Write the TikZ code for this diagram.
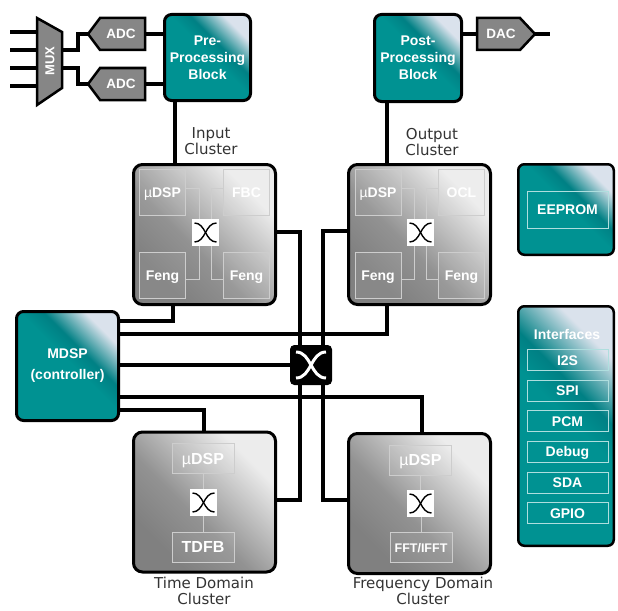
\documentclass[tikz,border=0pt]{standalone}
\usepackage{fontspec}
\setmainfont{Liberation Sans}
\newfontfamily\labfont{DejaVu Sans}
\usetikzlibrary{calc}
\pgfdeclarelayer{bg}
\pgfsetlayers{bg,main}
\definecolor{tealA}{RGB}{0,146,146}
\definecolor{tealB}{RGB}{0,128,132}
\definecolor{tealHi}{RGB}{218,226,236}
\definecolor{gA}{RGB}{128,128,128}
\definecolor{gB}{RGB}{146,146,146}
\definecolor{gC}{RGB}{236,236,236}
\definecolor{boxgray}{RGB}{134,134,134}
\definecolor{subline}{RGB}{205,205,205}
\definecolor{tealline}{RGB}{175,222,222}
\pgfdeclareverticalshading{tealsh}{100bp}{color(0bp)=(tealA); color(52bp)=(tealA); color(60bp)=(tealB); color(74bp)=(tealHi); color(100bp)=(tealHi)}
\pgfdeclareverticalshading{graysh}{100bp}{color(0bp)=(gA); color(28bp)=(gA); color(44bp)=(gB); color(72bp)=(gC); color(100bp)=(gC)}
\begin{document}
\begin{tikzpicture}[x=1pt,y=-1pt,line join=miter,
  wire/.style={line width=4pt},
  tealblk/.style={draw=black,line width=3pt,rounded corners=7pt,shading=tealsh,shading angle=-45,text=white,font=\bfseries\fontsize{14}{17}\selectfont,align=center,inner sep=0pt},
  sideblk/.style={tealblk,line width=2.5pt,rounded corners=6pt},
  graycl/.style={draw=black,line width=3pt,rounded corners=9pt,shading=graysh,shading angle=-45,inner sep=0pt,minimum width=142pt,minimum height=140pt},
  subbox/.style={draw=subline,line width=1pt,fill=white,fill opacity=0.07,text opacity=1,text=white,font=\bfseries\fontsize{14}{16}\selectfont,inner sep=0pt,minimum width=46pt,minimum height=46pt,text height=10pt,text depth=0pt},
  tdbox/.style={subbox,minimum width=62pt,minimum height=30pt,font=\bfseries\fontsize{16}{18}\selectfont,text height=11.5pt},
  xbox/.style={fill=white,inner sep=0pt,minimum width=27pt,minimum height=27pt},
  tealin/.style={draw=tealline,line width=1pt,text=white,font=\bfseries\fontsize{14}{16}\selectfont,inner sep=0pt,minimum width=81pt,text height=10pt,text depth=0pt},
  lab/.style={font=\labfont\fontsize{15}{16}\selectfont,align=center,text=black!80,inner sep=0pt},
  innerline/.style={draw=subline,line width=1pt},
  gshape/.style={fill=boxgray,draw=black,line width=2.5pt},
  boxtxt/.style={text=white,font=\bfseries\fontsize{13.5}{16}\selectfont,inner sep=0pt},
  xs/.pic={\draw[line width=1.4pt] (-11,-9.5) to[out=0,in=180] (11,9.5); \draw[line width=1.4pt] (-11,9.5) to[out=0,in=180] (11,-9.5);},
  xw/.pic={\draw[white,line width=3pt] (-15,-13) to[out=0,in=180] (15,13); \draw[white,line width=3pt] (-15,13) to[out=0,in=180] (15,-13);}
]
\useasboundingbox (0,0) rectangle (618,610);

% ---------- top row ----------
\node[tealblk,minimum width=86pt,minimum height=86pt] (pre) at (207.5,57.5) {Pre-\\Processing\\Block};
\node[tealblk,minimum width=87pt,minimum height=87pt] (post) at (418,58) {Post-\\Processing\\Block};

\draw[gshape] (37,18) -- (62,32) -- (62,88) -- (37,105) -- cycle;
\node[boxtxt,rotate=90,font=\bfseries\fontsize{13}{15}\selectfont] (mux) at (50,61) {MUX};
\draw[gshape] (100,18) -- (145,18) -- (145,50) -- (100,50) -- (88,34) -- cycle;
\node[boxtxt] (adc1) at (121,34) {ADC};
\draw[gshape] (100,68) -- (145,68) -- (145,100) -- (100,100) -- (88,84) -- cycle;
\node[boxtxt] (adc2) at (121,84) {ADC};
\draw[gshape] (477,18) -- (520,18) -- (535,34) -- (520,50) -- (477,50) -- cycle;
\node[boxtxt] (dac) at (501,34) {DAC};

\coordinate (in1) at (10,32);
\coordinate (in2) at (10,50);
\coordinate (in3) at (10,68);
\coordinate (in4) at (10,86);
\coordinate (muxl) at (38,0);
\coordinate (muxo1) at (62,50);
\coordinate (muxo2) at (62,68);
\coordinate (mb) at (78,0);
\coordinate (adc1tip) at (89,34);
\coordinate (adc2tip) at (89,84);
\coordinate (adc1r) at (145,34);
\coordinate (adc2r) at (145,84);
\coordinate (dacl) at (477,34);
\coordinate (dactip) at (534,34);
\coordinate (dacend) at (550,34);

% ---------- clusters ----------
\node[graycl] (incl) at (204.5,234.5) {};
\node[graycl] (outcl) at (419.5,234.5) {};
\node[graycl] (tdcl) at (204.5,502) {};
\node[graycl] (fdcl) at (419.5,503.5) {};

\node[lab] (inlab) at (211,141.5) {Input\\Cluster};
\node[lab] (outlab) at (432,142) {Output\\Cluster};
\node[lab] (tdlab) at (204,591) {Time Domain\\Cluster};
\node[lab] (fdlab) at (423,591) {Frequency Domain\\Cluster};

% input cluster contents
\node[subbox] (idsp) at (162.5,192) {{\mdseries µ}DSP};
\node[subbox] (ifbc) at (246.5,192) {FBC};
\node[subbox] (ifeng1) at (162.5,275.5) {Feng};
\node[subbox] (ifeng2) at (246.5,275.5) {Feng};
\node[xbox] (ix) at (205.5,232.5) {};
\pic at (ix) {xs};
\draw[innerline] ([yshift=4pt]idsp.east) -| ([xshift=-6.5pt]ix.north);
\draw[innerline] ([yshift=4pt]ifbc.west) -| ([xshift=5.5pt]ix.north);
\draw[innerline] ([xshift=-6.5pt]ix.south) |- ([yshift=-3.5pt]ifeng1.east);
\draw[innerline] ([xshift=5.5pt]ix.south) |- ([yshift=-3.5pt]ifeng2.west);

% output cluster contents
\node[subbox] (odsp) at (378,192.5) {{\mdseries µ}DSP};
\node[subbox] (oocl) at (461.5,192.5) {OCL};
\node[subbox] (ofeng1) at (378,275.5) {Feng};
\node[subbox] (ofeng2) at (461.5,275.5) {Feng};
\node[xbox] (ox) at (420.5,232.5) {};
\pic at (ox) {xs};
\draw[innerline] ([yshift=4pt]odsp.east) -| ([xshift=-6.5pt]ox.north);
\draw[innerline] ([yshift=4pt]oocl.west) -| ([xshift=5.5pt]ox.north);
\draw[innerline] ([xshift=-6.5pt]ox.south) |- ([yshift=-3.5pt]ofeng1.east);
\draw[innerline] ([xshift=5.5pt]ox.south) |- ([yshift=-3.5pt]ofeng2.west);

% time domain contents
\node[tdbox] (tdsp) at (203,458.5) {{\mdseries µ}DSP};
\node[xbox] (tx) at (203.5,502.5) {};
\pic at (tx) {xs};
\node[tdbox] (ttdfb) at (203,547) {TDFB};
\draw[innerline] (tdsp.south) -- (tdsp.south |- tx.north);
\draw[innerline] (tx.south -| ttdfb.north) -- (ttdfb.north);

% frequency domain contents
\node[tdbox] (fdsp) at (420.5,460) {{\mdseries µ}DSP};
\node[xbox] (fx) at (420.5,503.5) {};
\pic at (fx) {xs};
\node[tdbox,font=\bfseries\fontsize{12.5}{14}\selectfont,text height=9pt] (ffft) at (421,547.5) {FFT/IFFT};
\draw[innerline] (fdsp.south) -- (fdsp.south |- fx.north);
\draw[innerline] (fx.south -| ffft.north) -- (ffft.north);

% ---------- MDSP and crossbar ----------
\node[tealblk,minimum width=102pt,minimum height=109pt,font=\bfseries\fontsize{14}{21}\selectfont] (mdsp) at (67.5,366) {MDSP\\(controller)};
\node[draw=black,fill=black,line width=1pt,rounded corners=4pt,minimum width=41pt,minimum height=39pt,inner sep=0pt] (xbar) at (311,365) {};
\pic at (xbar) {xw};

% ---------- right side ----------
\node[sideblk,minimum width=95.5pt,minimum height=90.5pt] (eeprom) at (566,209.5) {};
\node[tealin,minimum height=37pt] (eeprombox) at (567.5,209.5) {EEPROM};
\node[sideblk,minimum width=95.5pt,minimum height=239.5pt] (intf) at (566,426) {};
\node[boxtxt,font=\bfseries\fontsize{14}{16}\selectfont] (intft) at (567,334) {Interfaces};
\node[tealin,minimum height=21pt] (i2s) at (567.5,360) {I2S};
\node[tealin,minimum height=21pt] (spi) at (567.5,390.5) {SPI};
\node[tealin,minimum height=21pt] (pcm) at (567.5,421) {PCM};
\node[tealin,minimum height=21pt] (dbg) at (567.5,451.5) {Debug};
\node[tealin,minimum height=21pt] (sda) at (567.5,482.5) {SDA};
\node[tealin,minimum height=21pt] (gpio) at (567.5,513) {GPIO};

% ---------- wires ----------
\coordinate (bl) at (300,232);
\coordinate (bl2) at (300,500);
\coordinate (br) at (323,231);
\coordinate (br2) at (323,500);
\coordinate (m1) at (173,321);
\coordinate (m2) at (387,334);
\coordinate (m4) at (422,397);
\coordinate (m5) at (204,410);
\begin{pgfonlayer}{bg}
\foreach \i in {in1,in2,in3,in4} \draw[wire] (\i) -- (\i -| muxl);
\draw[wire] (muxo1) -| (mb |- adc1tip) -- (adc1tip);
\draw[wire] (muxo2) -| (mb |- adc2tip) -- (adc2tip);
\draw[wire] (adc1r) -- (adc1r -| pre.west);
\draw[wire] (adc2r) -- (adc2r -| pre.west);
\draw[wire] (post.east |- dacl) -- (dacl);
\draw[wire] (dactip) -- (dacend);
\draw[wire] ([xshift=12pt]pre.south west) -- ([xshift=12pt]pre.south west |- incl.north);
\draw[wire] ([xshift=14pt]post.south west) -- ([xshift=14pt]post.south west |- outcl.north);
\draw[wire] (incl.east |- bl) -- (bl) -- (bl2) -- (tdcl.east |- bl2);
\draw[wire] (outcl.west |- br) -- (br) -- (br2) -- (fdcl.west |- br2);
\draw[wire] (mdsp.east |- m1) -- (m1) -- (m1 |- incl.south);
\draw[wire] (mdsp.east |- m2) -- (m2) -- (m2 |- outcl.south);
\draw[wire] (mdsp.east |- xbar.west) -- (xbar.west);
\draw[wire] (mdsp.east |- m4) -- (m4) -- (m4 |- fdcl.north);
\draw[wire] (mdsp.east |- m5) -- (m5) -- (m5 |- tdcl.north);
\end{pgfonlayer}
\end{tikzpicture}
\end{document}
